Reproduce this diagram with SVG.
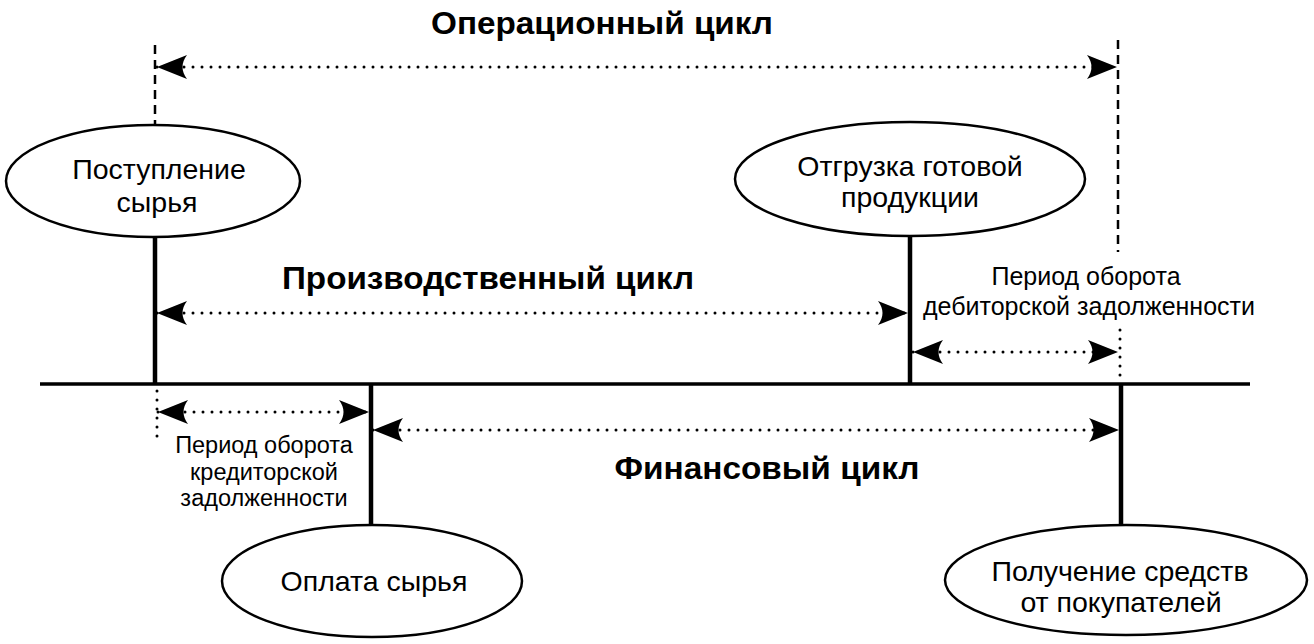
<svg xmlns="http://www.w3.org/2000/svg" width="1314" height="644" viewBox="0 0 1314 644">
<defs>
<marker id="ah" markerUnits="userSpaceOnUse" viewBox="0 0 30 24" markerWidth="30" markerHeight="24" refX="30" refY="12" orient="auto-start-reverse">
<path d="M30,12 L0,0 Q9,12 0,24 Z" fill="#000"/>
</marker>
</defs>
<style>
.node ellipse{fill:#fff;stroke:#000;stroke-width:2.5}
.t{font-family:"Liberation Sans",Arial,sans-serif;fill:#000;text-anchor:middle}
.n{font-size:28.5px}
.s{font-size:25px}
.c{font-size:23.5px}
.b{font-size:31px;font-weight:bold}
.dot{stroke:#000;stroke-width:3;stroke-dasharray:0 9;stroke-linecap:round;fill:none}
.dash{stroke:#000;stroke-width:2.5;stroke-dasharray:9 6;fill:none}
.thick{stroke:#000;stroke-width:4.5;fill:none}
.arr{stroke:#000;stroke-width:3;stroke-dasharray:0 9;stroke-linecap:round;fill:none;marker-start:url(#ah);marker-end:url(#ah)}
</style>
<rect width="1314" height="644" fill="#fff"/>
<g id="connectors">
<line class="thick" x1="40" y1="384" x2="1250" y2="384" style="stroke-width:3.5"/>
<line class="thick" x1="155" y1="237" x2="155" y2="384"/>
<line class="thick" x1="910" y1="235" x2="910" y2="384"/>
<line class="thick" x1="371" y1="384" x2="371" y2="525"/>
<line class="thick" x1="1121" y1="384" x2="1121" y2="525"/>
<line class="dash" x1="155" y1="45" x2="155" y2="125"/>
<line class="dash" x1="1118" y1="40" x2="1118" y2="252"/>
<line class="dot" x1="1120" y1="330" x2="1120" y2="380"/>
<line class="dot" x1="157" y1="391" x2="157" y2="440"/>
<line class="arr" x1="157" y1="67" x2="1117" y2="67"/>
<line class="arr" x1="157" y1="313" x2="908" y2="313"/>
<line class="arr" x1="913" y1="352" x2="1118" y2="352"/>
<line class="arr" x1="158" y1="412" x2="369" y2="412"/>
<line class="arr" x1="373" y1="430" x2="1119" y2="430"/>
</g>
<g id="node-postuplenie" class="node">
<ellipse cx="153" cy="181" rx="147" ry="56"/>
<text class="t n" x="159" y="179">Поступление</text>
<text class="t n" x="157" y="212">сырья</text>
</g>
<g id="node-otgruzka" class="node">
<ellipse cx="910" cy="179" rx="175" ry="57"/>
<text class="t n" x="910" y="176">Отгрузка готовой</text>
<text class="t n" x="910" y="207">продукции</text>
</g>
<g id="node-oplata" class="node">
<ellipse cx="372" cy="581" rx="150" ry="56"/>
<text class="t n" x="374" y="591">Оплата сырья</text>
</g>
<g id="node-poluchenie" class="node">
<ellipse cx="1126" cy="580" rx="181" ry="55"/>
<text class="t n" x="1120" y="581">Получение средств</text>
<text class="t n" x="1121" y="612">от покупателей</text>
</g>
<g id="labels">
<text class="t b" x="602" y="34" textLength="342" lengthAdjust="spacingAndGlyphs">Операционный цикл</text>
<text class="t b" x="488" y="289" textLength="412" lengthAdjust="spacingAndGlyphs">Производственный цикл</text>
<text class="t b" x="767" y="479" textLength="305" lengthAdjust="spacingAndGlyphs">Финансовый цикл</text>
<text class="t s" x="1086" y="285">Период оборота</text>
<text class="t s" x="1089" y="315">дебиторской задолженности</text>
<text class="t c" x="264" y="453">Период оборота</text>
<text class="t c" x="264" y="479.5">кредиторской</text>
<text class="t c" x="264" y="506">задолженности</text>
</g>
</svg>
